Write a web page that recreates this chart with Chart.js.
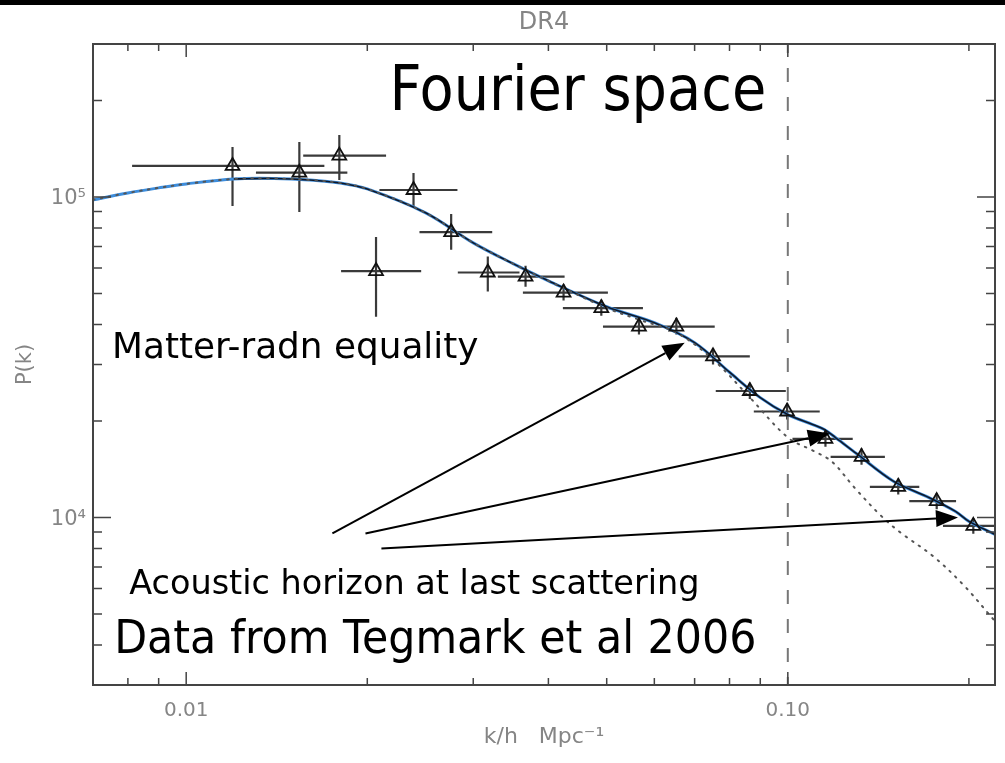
<!DOCTYPE html>
<html>
<head>
<meta charset="utf-8">
<title>DR4 P(k)</title>
<script src="https://cdn.jsdelivr.net/npm/chart.js@4.4.1/dist/chart.umd.min.js"></script>
<style>
  html, body { margin: 0; padding: 0; background: #fff; }
  #wrap { position: relative; width: 1005px; height: 763px; }
  #wrap canvas { display: block; }
  #topbar { position: absolute; left: 0; top: 0; width: 1005px; height: 5px; background: #000; }
</style>
</head>
<body>
<div id="wrap">
  <canvas id="grafico-pk" width="1005" height="763"></canvas>
  <div id="topbar"></div>
</div>
<script>
// Band powers, Tegmark et al 2006 (SDSS DR4)
const dataK = [0.01194, 0.01542, 0.01797, 0.02068, 0.02387, 0.02757, 0.03172, 0.03665, 0.04239, 0.04898,
               0.05657, 0.06528, 0.07511, 0.08647, 0.09973, 0.1155, 0.1326, 0.1526, 0.1768, 0.2034];
const dataP = [124900, 119000, 134500, 58700, 105100, 77600, 58100, 56400, 50300, 45000,
               39400, 39400, 31800, 24800, 21400, 17590, 15450, 12460, 11240, 9410];
const kLo = [0.00813, 0.01306, 0.01565, 0.01809, 0.02095, 0.02442, 0.02828, 0.03296, 0.03628, 0.04228,
             0.04929, 0.05672, 0.06587, 0.0759, 0.0878, 0.1018, 0.1178, 0.1369, 0.1592, 0.1811];
const kHi = [0.01697, 0.01853, 0.02149, 0.02458, 0.02824, 0.03226, 0.03581, 0.04256, 0.05023, 0.05744,
             0.0651, 0.0756, 0.08647, 0.09924, 0.113, 0.1282, 0.145, 0.1654, 0.1904, 0.23];
const pLo = [93700, 89800, 113000, 42300, 93100, 68400, 50700, 52400, 47500, 42600,
             37200, 37200, 30000, 23400, 20200, 16600, 14600, 11800, 10600, 8900];
const pHi = [143100, 148300, 156000, 75000, 118800, 88500, 65200, 61000, 53300, 47800,
             42000, 42000, 33700, 26300, 22700, 18700, 16400, 13200, 11900, 9950];

// best-fit model with baryon wiggles
const modelK = [0.007, 0.008, 0.009, 0.010, 0.012, 0.014, 0.016, 0.018, 0.020, 0.025, 0.030, 0.035, 0.040, 0.050,
                0.060, 0.070, 0.080, 0.090, 0.100, 0.110, 0.115, 0.120, 0.130, 0.150, 0.170, 0.190, 0.200, 0.221];
const modelP = [97900, 102900, 106700, 109800, 113800, 114200, 113000, 110600, 105900, 89200, 71900, 61800, 54750, 45430,
                40500, 35100, 28380, 23650, 20940, 19490, 18800, 17750, 15830, 12950, 11630, 10440, 9720, 8850];
// same model without wiggles (dotted)
const smoothK = [0.007, 0.008, 0.009, 0.010, 0.012, 0.014, 0.016, 0.018, 0.020, 0.025, 0.030, 0.035, 0.040, 0.050,
                 0.0566, 0.0653, 0.0751, 0.0865, 0.100, 0.110, 0.1183, 0.129, 0.1427, 0.1538, 0.1745, 0.1961, 0.221];
const smoothP = [97900, 102900, 106700, 109800, 113800, 114200, 113000, 110600, 105900, 89200, 71900, 61800, 54750, 45000,
                 41400, 37700, 31100, 23650, 17750, 16170, 14950, 12400, 10140, 8980, 7560, 6140, 4743];

const kLine = 0.1;   // dashed marker

const xMajorTicks = [0.01, 0.1];
const xTickLabels = ['0.01', '0.10'];
const xMinorTicks = [0.008, 0.009, 0.02, 0.03, 0.04, 0.05, 0.06, 0.07, 0.08, 0.09, 0.2];
const yMajorTicks = [1e4, 1e5];
const yTickLabels = ['10⁴', '10⁵'];
const yMinorTicks = [4000, 5000, 6000, 7000, 8000, 9000, 20000, 30000, 40000, 50000, 60000, 70000, 80000, 90000, 200000];

// notes and arrows, placed in (k, P)
const arrows = [
  { from: [0.0175, 8915], to: [0.0674, 35100] },
  { from: [0.01986, 8915], to: [0.1175, 18270] },
  { from: [0.02111, 8005], to: [0.1918, 10000] }
];
const notes = [
  { text: 'Fourier space', at: [0.02177, 186600], size: 62, sx: 0.9 },
  { text: 'Matter-radn equality', at: [0.00753, 31450], size: 36, sx: 0.995 },
  { text: 'Acoustic horizon at last scattering', at: [0.00804, 5755], size: 34, sx: 0.985 },
  { text: 'Data from Tegmark et al 2006', at: [0.00759, 3770], size: 46, sx: 0.93 }
];

const pts = (xs, ys) => xs.map((v, i) => ({ x: v, y: ys[i] }));

Chart.defaults.font.family = "'DejaVu Sans', sans-serif";

// horizontal and vertical error bars under the triangles
const errorBars = {
  id: 'errorBars',
  beforeDatasetsDraw(chart) {
    const { ctx, chartArea: a, scales: { x, y } } = chart;
    ctx.save();
    ctx.beginPath();
    ctx.rect(a.left, a.top, a.right - a.left, a.bottom - a.top);
    ctx.clip();
    ctx.strokeStyle = '#3a3a3a';
    ctx.lineWidth = 2.2;
    ctx.beginPath();
    dataK.forEach((k, i) => {
      const px = x.getPixelForValue(k), py = y.getPixelForValue(dataP[i]);
      ctx.moveTo(x.getPixelForValue(kLo[i]), py);
      ctx.lineTo(x.getPixelForValue(kHi[i]), py);
      ctx.moveTo(px, y.getPixelForValue(pLo[i]));
      ctx.lineTo(px, y.getPixelForValue(pHi[i]));
    });
    ctx.stroke();
    ctx.restore();
  }
};

// box with inward ticks on all four sides
const frameTicks = {
  id: 'frameTicks',
  afterDatasetsDraw(chart) {
    const { ctx, chartArea: a, scales: { x, y } } = chart;
    ctx.save();
    ctx.strokeStyle = '#444';
    ctx.lineWidth = 1.5;
    ctx.beginPath();
    const xt = (v, len) => {
      const px = x.getPixelForValue(v);
      ctx.moveTo(px, a.bottom); ctx.lineTo(px, a.bottom - len);
      ctx.moveTo(px, a.top); ctx.lineTo(px, a.top + len);
    };
    const yt = (v, len) => {
      const py = y.getPixelForValue(v);
      ctx.moveTo(a.left, py); ctx.lineTo(a.left + len, py);
      ctx.moveTo(a.right, py); ctx.lineTo(a.right - len, py);
    };
    xMajorTicks.forEach(v => xt(v, 13));
    xMinorTicks.forEach(v => xt(v, 7));
    yMajorTicks.forEach(v => yt(v, 18));
    yMinorTicks.forEach(v => yt(v, 9));
    ctx.stroke();
    ctx.lineWidth = 2;
    ctx.strokeRect(a.left, a.top, a.right - a.left, a.bottom - a.top);
    ctx.restore();
  }
};

function drawArrow(ctx, x0, y0, x1, y1) {
  const ang = Math.atan2(y1 - y0, x1 - x0), len = 22, half = 8.5;
  const bx = x1 - len * Math.cos(ang), by = y1 - len * Math.sin(ang);
  ctx.beginPath();
  ctx.moveTo(x0, y0);
  ctx.lineTo(bx, by);
  ctx.stroke();
  ctx.beginPath();
  ctx.moveTo(x1, y1);
  ctx.lineTo(bx + half * Math.sin(ang), by - half * Math.cos(ang));
  ctx.lineTo(bx - half * Math.sin(ang), by + half * Math.cos(ang));
  ctx.closePath();
  ctx.fill();
}

const notesPlugin = {
  id: 'notes',
  afterDraw(chart) {
    const { ctx, scales: { x, y } } = chart;
    ctx.save();
    ctx.strokeStyle = '#000';
    ctx.fillStyle = '#000';
    ctx.lineWidth = 2;
    arrows.forEach(a => drawArrow(ctx,
      x.getPixelForValue(a.from[0]), y.getPixelForValue(a.from[1]),
      x.getPixelForValue(a.to[0]), y.getPixelForValue(a.to[1])));
    ctx.textAlign = 'left';
    ctx.textBaseline = 'alphabetic';
    notes.forEach(n => {
      ctx.save();
      ctx.translate(x.getPixelForValue(n.at[0]), y.getPixelForValue(n.at[1]));
      ctx.scale(n.sx, 1);
      ctx.font = n.size + "px 'DejaVu Sans', sans-serif";
      ctx.fillText(n.text, 0, 0);
      ctx.restore();
    });
    ctx.restore();
  }
};

const grafico = document.getElementById('grafico-pk');
new Chart(grafico.getContext('2d'), {
  type: 'scatter',
  data: {
    datasets: [
      {
        label: 'DR4',
        data: pts(dataK, dataP),
        pointStyle: 'triangle',
        pointRadius: 8,
        borderColor: '#111',
        backgroundColor: 'rgba(255,255,255,0)',
        borderWidth: 1.8,
        order: 0
      },
      {
        label: 'no wiggles',
        data: pts(smoothK, smoothP),
        showLine: true,
        borderColor: '#555',
        borderWidth: 2,
        borderDash: [1.5, 6.5],
        borderCapStyle: 'round',
        pointRadius: 0,
        tension: 0.35,
        order: 1
      },
      {
        label: 'model',
        data: pts(modelK.slice(4), modelP.slice(4)),
        showLine: true,
        borderColor: '#101828',
        borderWidth: 1.6,
        pointRadius: 0,
        tension: 0.35,
        order: 2
      },
      {
        label: 'model (blue)',
        data: pts(modelK, modelP),
        showLine: true,
        borderColor: '#3d8ddc',
        borderWidth: 3,
        pointRadius: 0,
        tension: 0.35,
        order: 3
      },
      {
        label: 'k = 0.1',
        data: [{ x: kLine, y: 3000 }, { x: kLine, y: 300000 }],
        showLine: true,
        borderColor: '#777',
        borderWidth: 2,
        borderDash: [14, 15],
        borderDashOffset: 6,
        pointRadius: 0,
        order: 4
      }
    ]
  },
  options: {
    responsive: false,
    animation: false,
    events: [],
    layout: { padding: { right: 10 } },
    plugins: {
      legend: { display: false },
      tooltip: { enabled: false },
      title: {
        display: true,
        fullSize: false,
        text: 'DR4',
        color: '#858585',
        font: { size: 24, weight: 'normal' },
        padding: { top: 8.3, bottom: 6.9 }
      }
    },
    scales: {
      x: {
        type: 'logarithmic',
        min: 0.007,
        max: 0.221,
        grid: { display: false, drawTicks: false },
        border: { display: false },
        afterBuildTicks: s => { s.ticks = xMajorTicks.map(v => ({ value: v })); },
        afterFit: s => { s.height = 78; },
        ticks: {
          autoSkip: false,
          maxRotation: 0,
          padding: 13.5,
          color: '#858585',
          font: { size: 20 },
          callback: (v, i) => xTickLabels[i]
        },
        title: {
          display: true,
          text: 'k/h   Mpc⁻¹',
          color: '#858585',
          font: { size: 22 },
          padding: { top: 0, bottom: 12.4 }
        }
      },
      y: {
        type: 'logarithmic',
        min: 3000,
        max: 300000,
        grid: { display: false, drawTicks: false },
        border: { display: false },
        afterBuildTicks: s => { s.ticks = yMajorTicks.map(v => ({ value: v })); },
        afterFit: s => { s.width = 93; },
        ticks: {
          autoSkip: false,
          padding: 7,
          labelOffset: 2,
          color: '#858585',
          font: { size: 21 },
          callback: (v, i) => yTickLabels[i]
        },
        title: {
          display: true,
          text: 'P(k)',
          color: '#858585',
          font: { size: 21 },
          padding: { top: 13, bottom: 0 }
        }
      }
    }
  },
  plugins: [errorBars, frameTicks, notesPlugin]
});
</script>
</body>
</html>
